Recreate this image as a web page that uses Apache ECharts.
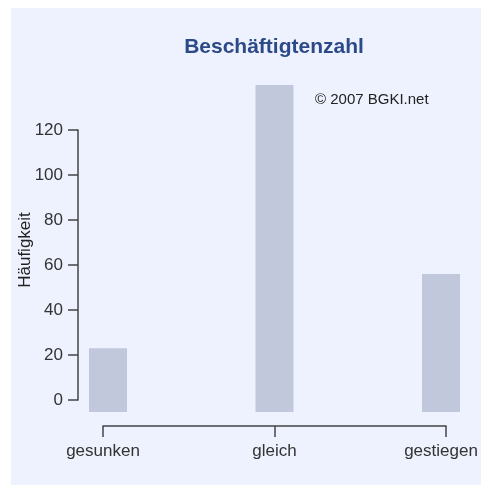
<!DOCTYPE html>
<html>
<head>
<meta charset="utf-8">
<script src="https://cdn.jsdelivr.net/npm/echarts@6/dist/echarts.min.js"></script>
<style>
  html, body { margin: 0; padding: 0; background: #fff; }
  #chart { width: 481px; height: 485px; }
</style>
</head>
<body>
<div id="chart"></div>
<script>
const categories = ['gesunken', 'gleich', 'gestiegen']
const counts = [23, 140, 56]
const yTicks = { min: 0, max: 120, step: 20 }

const chart = echarts.init(document.getElementById('chart'))

const barData = counts.map((v, i) => [i, v])
const font = 'Liberation Sans, Arial, sans-serif'

const option = {
  backgroundColor: '#ffffff',
  animation: false,
  textStyle: { fontFamily: font },
  title: {
    text: 'Beschäftigtenzahl',
    left: 269,
    top: 32,
    textAlign: 'center',
    textStyle: { color: '#2b4a87', fontSize: 21, fontWeight: 'bold', fontFamily: font }
  },
  graphic: [
    {
      type: 'rect', z: -10, silent: true,
      shape: { x: 11, y: 8, width: 470, height: 477 },
      style: { fill: '#eef2fe' }
    },
    {
      type: 'text', x: 315, y: 100,
      style: {
        text: '© 2007 BGKI.net', fill: '#222', fontSize: 15,
        fontFamily: font, textAlign: 'left', textVerticalAlign: 'middle'
      }
    },
    {
      type: 'text', x: 25, y: 250, rotation: Math.PI / 2,
      style: {
        text: 'Häufigkeit', fill: '#222', fontSize: 17,
        fontFamily: font, textAlign: 'center', textVerticalAlign: 'middle'
      }
    }
  ],
  grid: { left: 103, right: 35, top: 130, bottom: 85, outerBoundsMode: 'none', containLabel: false },
  xAxis: [
    {
      type: 'category',
      data: categories,
      boundaryGap: false,
      offset: 26,
      axisLine: { show: true, onZero: false, lineStyle: { color: '#444', width: 1.5 } },
      axisTick: { show: true, length: 11, lineStyle: { color: '#444', width: 1.5 } },
      axisLabel: {
        color: '#333', fontSize: 17, margin: 17,
        formatter: (v, i) => (i === categories.length - 1 ? '{r|' + v + '}' : v),
        rich: { r: { color: '#333', fontSize: 17, fontFamily: font, padding: [0, 10, 0, 0] } }
      },
      splitLine: { show: false }
    },
    {
      type: 'value',
      min: -0.03,
      max: 2.03,
      show: false
    }
  ],
  yAxis: {
    type: 'value',
    min: yTicks.min,
    max: yTicks.max,
    interval: yTicks.step,
    offset: 25,
    axisLine: { show: true, onZero: false, lineStyle: { color: '#444', width: 1.5 } },
    axisTick: { show: true, length: 10, lineStyle: { color: '#444', width: 1.5 } },
    axisLabel: { color: '#333', fontSize: 17, margin: 15 },
    splitLine: { show: false }
  },
  series: [
    {
      type: 'custom',
      xAxisIndex: 1,
      yAxisIndex: 0,
      clip: false,
      data: barData,
      encode: { x: 0, y: 1 },
      renderItem: (params, api) => {
        const top = api.coord([api.value(0), api.value(1)])
        const base = api.coord([api.value(0), 0])
        const w = 38
        return {
          type: 'rect',
          shape: { x: top[0] - w / 2, y: top[1], width: w, height: base[1] + 12 - top[1] },
          style: { fill: '#c2c8dc' }
        }
      }
    }
  ]
}

chart.setOption(option)
</script>
</body>
</html>
